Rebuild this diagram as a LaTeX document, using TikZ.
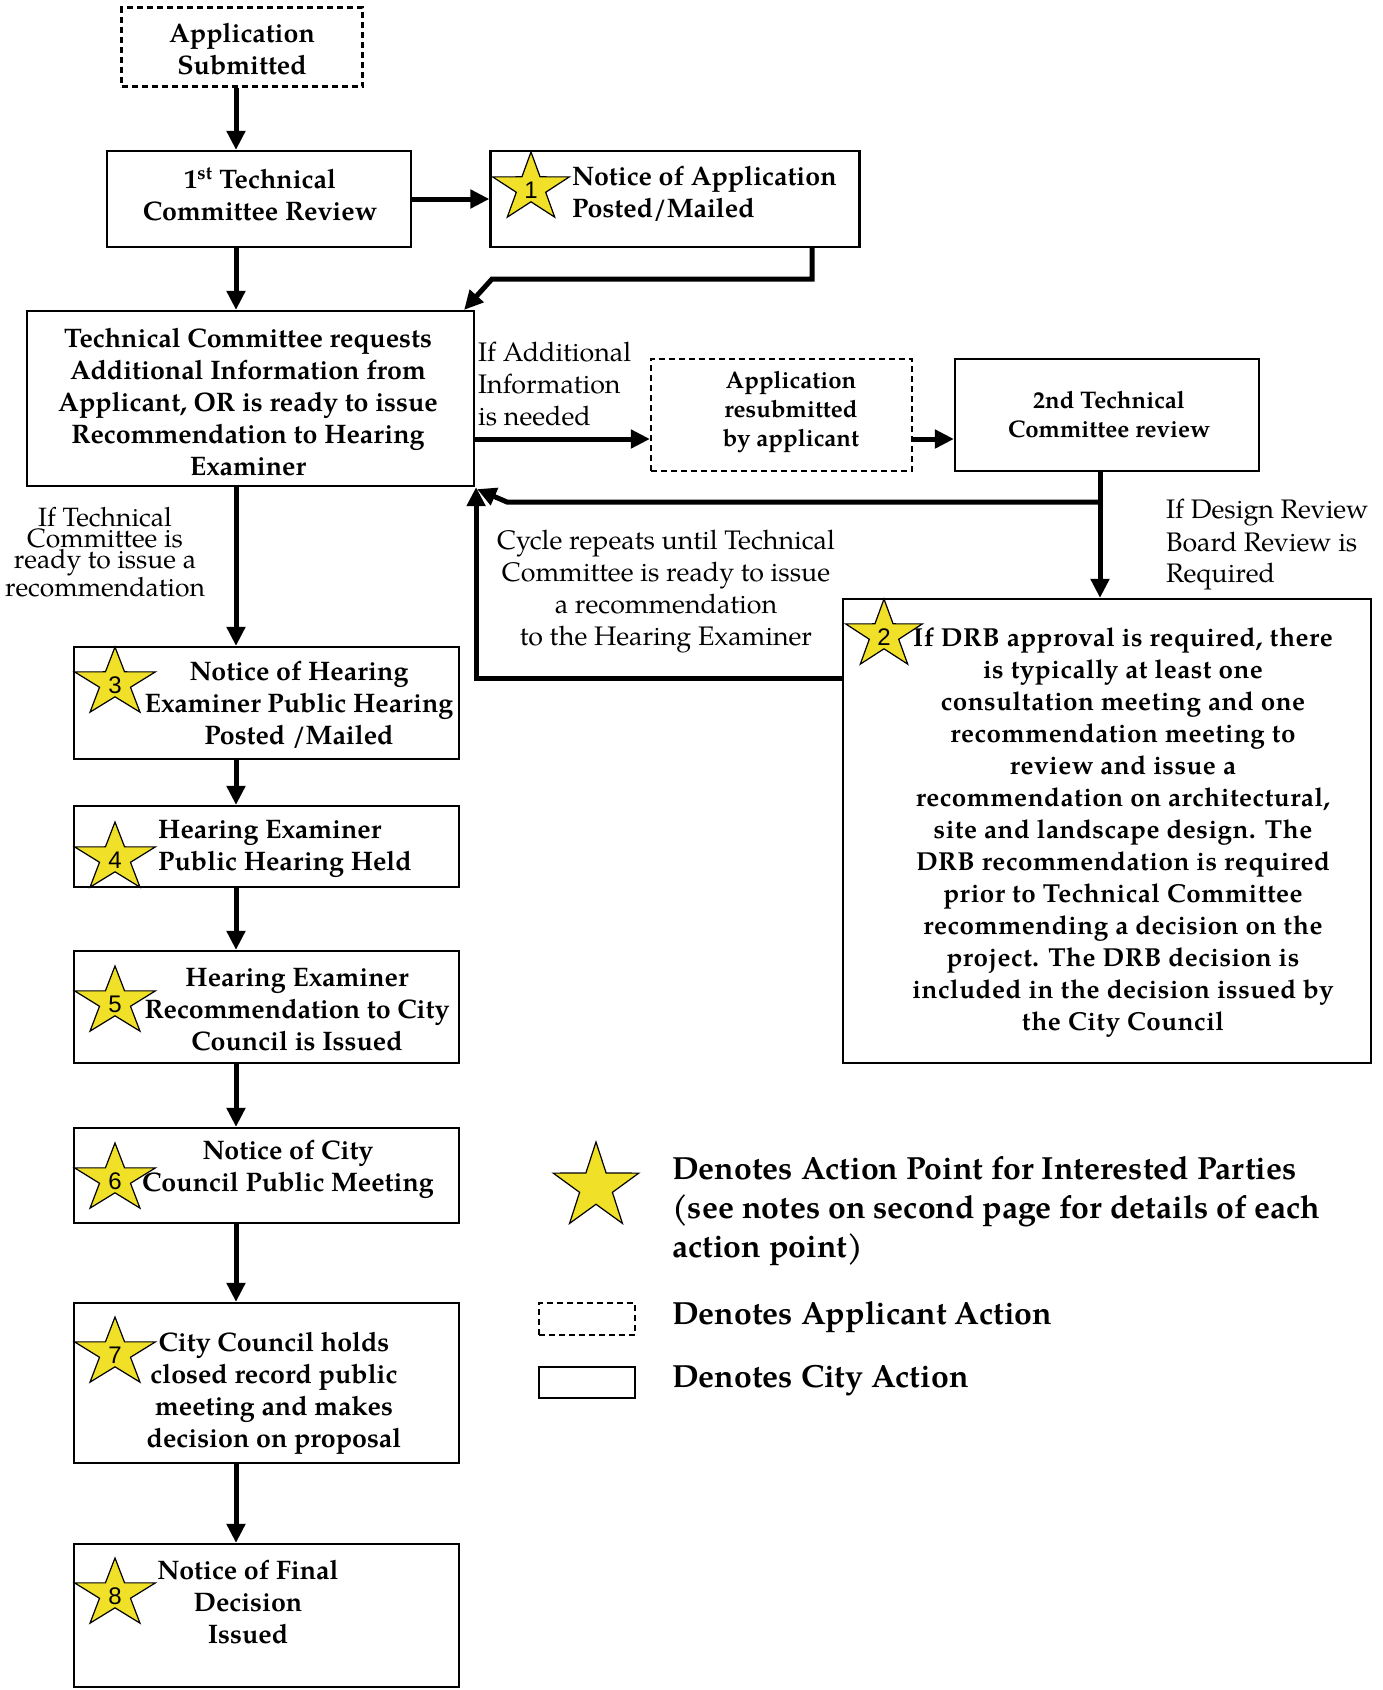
\documentclass[tikz,border=0pt]{standalone}
\usepackage{fontspec}
\setmainfont{TeX Gyre Pagella}
\newfontfamily\numfont{Liberation Sans}
\newfontfamily\drbfont[LetterSpace=2]{TeX Gyre Pagella}
\usetikzlibrary{arrows.meta,calc}
\definecolor{staryellow}{RGB}{240,224,40}
\tikzset{
  box/.style={draw, line width=2.2pt, rectangle, inner sep=0pt},
  dbox/.style={box, dash pattern=on 6pt off 4pt},
  arr/.style={line width=5pt, -{Triangle[length=19pt,width=18pt]}},
  lbl/.style={font=\fontsize{26.8}{32}\selectfont, align=center, inner sep=0pt},
  blbl/.style={font=\fontsize{26.8}{32}\selectfont\bfseries, align=center, inner sep=0pt},
  sblbl/.style={font=\fontsize{24}{29}\selectfont\bfseries, align=center, inner sep=0pt},
  leg/.style={font=\fontsize{32}{39}\selectfont\bfseries, anchor=west, align=left, inner sep=0pt},
  snum/.style={font=\numfont\fontsize{24}{24}\selectfont, inner sep=0pt},
  actstar/.pic={\draw[fill=staryellow, line width=1.2pt, line join=miter]
     (90:36pt) -- (126:13.8pt) -- (162:36pt) -- (198:13.8pt) -- (234:36pt) -- (270:13.8pt)
     -- (306:36pt) -- (342:13.8pt) -- (18:36pt) -- (54:13.8pt) -- cycle;}
}
\begin{document}
\begin{tikzpicture}[x=1pt,y=-1pt]
\useasboundingbox (0,0) rectangle (1383,1690);
% boxes
\node[dbox, minimum width=241pt, minimum height=79pt] (as) at (242,47) {};
\node[box, minimum width=304pt, minimum height=96pt] (tc1) at (259,199) {};
\node[box, minimum width=369pt, minimum height=96pt] (na) at (675,199) {};
\node[box, minimum width=447pt, minimum height=175pt] (tcr) at (250.5,398.5) {};
\node[dbox, minimum width=261pt, minimum height=112pt] (ar) at (781.5,415) {};
\node[box, minimum width=304pt, minimum height=112pt] (tc2) at (1107,415) {};
\node[box, minimum width=528pt, minimum height=464pt] (drb) at (1107,831) {};
\node[box, minimum width=385pt, minimum height=112pt] (b3) at (266.5,703) {};
\node[box, minimum width=385pt, minimum height=81pt] (b4) at (266.5,846.5) {};
\node[box, minimum width=385pt, minimum height=112pt] (b5) at (266.5,1007) {};
\node[box, minimum width=385pt, minimum height=95pt] (b6) at (266.5,1175.5) {};
\node[box, minimum width=385pt, minimum height=160pt] (b7) at (266.5,1383) {};
\node[box, minimum width=385pt, minimum height=143pt] (b8) at (266.5,1615.5) {};
% texts
\node[blbl] (tas) at (242,49) {Application\\Submitted};
\node[blbl] (ttc1) at (260,194) {1\textsuperscript{st} Technical\\Committee Review};
\node[blbl, anchor=west, align=left] (tna) at (572,194) {Notice of Application\\ Posted/Mailed};
\node[blbl] (ttcr) at (248,402) {Technical Committee requests\\Additional Information from\\Applicant, OR is ready to issue\\Recommendation to Hearing\\Examiner};
\node[lbl, anchor=west, align=left] (tif) at (478,384) {If Additional\\Information\\is needed};
\node[sblbl] (tar) at (791,412) {Application\\resubmitted\\by applicant};
\node[sblbl] (ttc2) at (1109,415) {2nd Technical\\Committee review};
\node[lbl, font=\fontsize{26.5}{21}\selectfont] (tready) at (105,552) {If Technical\\Committee is\\ready to issue a\\recommendation};
\node[lbl] (tcyc) at (666,592) {Cycle repeats until Technical\\Committee is ready to issue\\a recommendation\\to the Hearing Examiner};
\node[lbl, anchor=west, align=left] (tdrbq) at (1166,545) {If Design Review\\Board Review is\\Required};
\node[blbl, font=\drbfont\fontsize{26}{32}\selectfont\bfseries] (tdrb) at (1123,833) {If DRB approval is required, there\\is typically at least one\\consultation meeting and one\\recommendation meeting to\\review and issue a\\recommendation on architectural,\\site and landscape design. The\\DRB recommendation is required\\prior to Technical Committee\\recommending a decision on the\\project. The DRB decision is\\included in the decision issued by\\the City Council};
\node[blbl] (tb3) at (299,705) {Notice of Hearing\\Examiner Public Hearing\\Posted /Mailed};
\node[blbl, anchor=west, align=left] (tb4) at (158,849) {Hearing Examiner\\Public Hearing Held};
\node[blbl] (tb5) at (297,1010) {Hearing Examiner\\Recommendation to City\\Council is Issued};
\node[blbl] (tb6) at (288,1169) {Notice of City\\Council Public Meeting};
\node[blbl] (tb7) at (274,1393) {City Council holds\\closed record public\\meeting and makes\\decision on proposal};
\node[blbl] (tb8) at (248,1602) {Notice of Final\\Decision\\Issued};
% stars
\pic[xscale=1.12] at (531,188) {actstar};
\node[snum] (n1) at (531,190) {1};
\pic[xscale=1.12] at (884,635) {actstar};
\node[snum] (n2) at (884,637) {2};
\pic[xscale=1.18] at (115,683) {actstar};
\node[snum] (n3) at (115,685) {3};
\pic[xscale=1.18] at (115,858) {actstar};
\node[snum] (n4) at (115,860) {4};
\pic[xscale=1.18] at (115,1002) {actstar};
\node[snum] (n5) at (115,1004) {5};
\pic[xscale=1.18] at (115,1179) {actstar};
\node[snum] (n6) at (115,1181) {6};
\pic[xscale=1.18] at (115,1353) {actstar};
\node[snum] (n7) at (115,1355) {7};
\pic[xscale=1.18] at (115,1594) {actstar};
\node[snum] (n8) at (115,1596) {8};
% arrows
\coordinate (vx) at (236,0);
\draw[arr] (as.south -| vx) -- (tc1.north -| vx);
\draw[arr] (tc1.east) -- (na.west);
\draw[arr] (tc1.south -| vx) -- (tcr.north -| vx);
\coordinate (n1a) at (812,279);
\coordinate (n2a) at (492,279);
\draw[arr] (na.south -| n1a) -- (n1a) -- (n2a) -- ([xshift=-11pt]tcr.north east);
\coordinate (arin) at ([yshift=-24pt]ar.west);
\draw[arr] (tcr.east |- arin) -- (arin);
\coordinate (arout) at ([yshift=-24pt]ar.east);
\draw[arr] (arout) -- (tc2.west |- arout);
\coordinate (tc2s) at ([xshift=-7pt]tc2.south);
\draw[arr] (tc2s) -- (tc2s |- drb.north);
\coordinate (j) at (1100,502);
\coordinate (k1) at (507,502);
\draw[arr] (j) -- (k1) -- ([xshift=2pt,yshift=-2pt]tcr.south east);
\coordinate (y678) at (0,678);
\draw[arr] (drb.west |- y678) -| ([xshift=1pt]tcr.south east);
\draw[arr] (tcr.south -| vx) -- (b3.north -| vx);
\draw[arr] (b3.south -| vx) -- (b4.north -| vx);
\draw[arr] (b4.south -| vx) -- (b5.north -| vx);
\draw[arr] (b5.south -| vx) -- (b6.north -| vx);
\draw[arr] (b6.south -| vx) -- (b7.north -| vx);
\draw[arr] (b7.south -| vx) -- (b8.north -| vx);
% legend
\pic[scale=1.25] at (596,1187) {actstar};
\node[leg] (lg1) at (672,1211) {Denotes Action Point for Interested Parties\\(see notes on second page for details of each\\action point)};
\node[dbox, minimum width=96pt, minimum height=32pt] (lgd) at (587,1319) {};
\node[leg] (lg2) at (672,1317) {Denotes Applicant Action};
\node[box, minimum width=96pt, minimum height=31pt] (lgs) at (587,1382.5) {};
\node[leg] (lg3) at (672,1381) {Denotes City Action};
\end{tikzpicture}
\end{document}
